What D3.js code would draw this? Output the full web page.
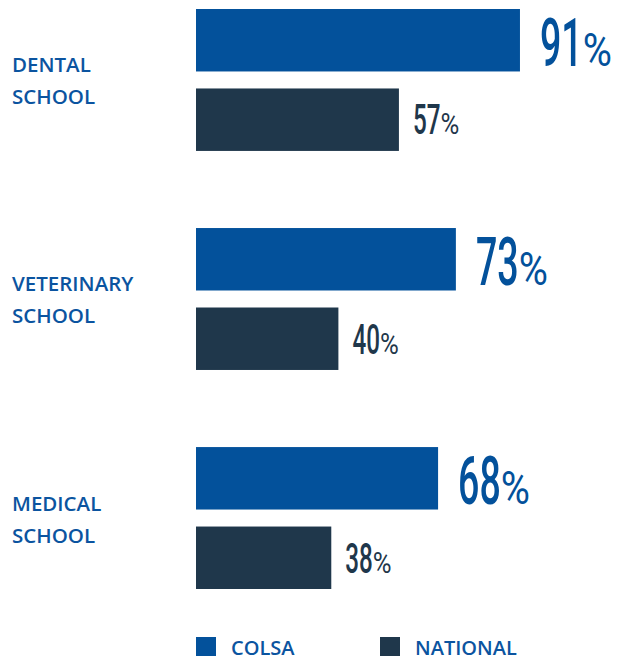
<html>
<head>
    <meta charset="utf-8" />
    <script src="https://cdn.jsdelivr.net/npm/d3@7"></script>
    <style>
        body { margin: 0; background: #fff; }
    </style>
</head>
<body>
    <script>
        var width = 624;
        var height = 656;

        // data
        var categories = [['DENTAL', 'SCHOOL'], ['VETERINARY', 'SCHOOL'], ['MEDICAL', 'SCHOOL']];
        var seriesNames = ['COLSA', 'NATIONAL'];
        var colsa = [91, 73, 68];
        var national = [57, 40, 38];

        var colors = { COLSA: '#03519b', NATIONAL: '#1f374b' };
        var labelBlue = '#0b54a0';

        var rows = categories.map(function (c, i) {
            return { key: c.join(' '), lines: c, COLSA: colsa[i], NATIONAL: national[i] };
        });

        var svg = d3.select('body')
            .append('svg')
            .attr('width', width)
            .attr('height', height)
            .style('display', 'block');

        var x = d3.scaleLinear().domain([0, 100]).range([196, 552]);
        var y = d3.scaleBand()
            .domain(rows.map(function (d) { return d.key; }))
            .range([9, 589])
            .paddingInner(0.352);
        var yInner = d3.scaleBand()
            .domain(seriesNames)
            .range([0, y.bandwidth()])
            .paddingInner(0.214);

        var groups = svg.selectAll('g.group')
            .data(rows)
            .enter()
            .append('g')
            .attr('class', 'group')
            .attr('transform', function (d) { return 'translate(0,' + y(d.key) + ')'; });

        // category labels
        groups.append('text')
            .attr('x', 12)
            .attr('y', y.bandwidth() / 2 - 7.5)
            .attr('font-family', 'Open Sans, sans-serif')
            .attr('font-weight', 600)
            .attr('font-size', 20.5)
            .attr('fill', labelBlue)
            .selectAll('tspan')
            .data(function (d) { return d.lines; })
            .enter()
            .append('tspan')
            .attr('x', 12)
            .attr('dy', function (d, i) { return i === 0 ? 0 : 32; })
            .text(function (d) { return d; });

        var bars = groups.selectAll('g.bar')
            .data(function (d) {
                return seriesNames.map(function (s) { return { series: s, value: d[s] }; });
            })
            .enter()
            .append('g')
            .attr('class', 'bar');

        bars.append('rect')
            .attr('x', x(0))
            .attr('y', function (d) { return yInner(d.series); })
            .attr('width', function (d) { return x(d.value) - x(0); })
            .attr('height', yInner.bandwidth())
            .attr('fill', function (d) { return colors[d.series]; });

        // value labels: number condensed by horizontal scaling, % a bit less
        var numSize = { COLSA: 66, NATIONAL: 42.5 };
        var gapX = { COLSA: 20, NATIONAL: 14 };
        var baseOff = { COLSA: 57, NATIONAL: 46 };
        var numScale = 0.57;
        var pctScale = 0.85;

        bars.each(function (d) {
            var g = d3.select(this);
            var x0 = x(d.value) + gapX[d.series];
            var by = yInner(d.series) + baseOff[d.series];
            var num = g.append('text')
                .attr('transform', 'translate(' + x0 + ',' + by + ') scale(' + numScale + ',1)')
                .attr('font-family', 'Roboto, sans-serif')
                .attr('font-weight', 500)
                .attr('font-size', numSize[d.series])
                .attr('fill', colors[d.series])
                .text(d.value);
            var w = num.node().getComputedTextLength() * numScale;
            g.append('text')
                .attr('transform', 'translate(' + (x0 + w) + ',' + by + ') scale(' + pctScale + ',1)')
                .attr('font-family', 'Roboto, sans-serif')
                .attr('font-weight', 400)
                .attr('font-size', numSize[d.series] * 0.71)
                .attr('fill', colors[d.series])
                .text('%');
        });

        // legend
        var legendX = [196, 380];
        var legend = svg.selectAll('g.legend')
            .data(seriesNames)
            .enter()
            .append('g')
            .attr('class', 'legend')
            .attr('transform', function (d, i) { return 'translate(' + legendX[i] + ',637)'; });
        legend.append('rect')
            .attr('width', 20)
            .attr('height', 20)
            .attr('fill', function (d) { return colors[d]; });
        legend.append('text')
            .attr('x', 35)
            .attr('y', 17.5)
            .attr('font-family', 'Open Sans, sans-serif')
            .attr('font-weight', 600)
            .attr('font-size', 20)
            .attr('fill', labelBlue)
            .text(function (d) { return d; });
    </script>
</body>
</html>
